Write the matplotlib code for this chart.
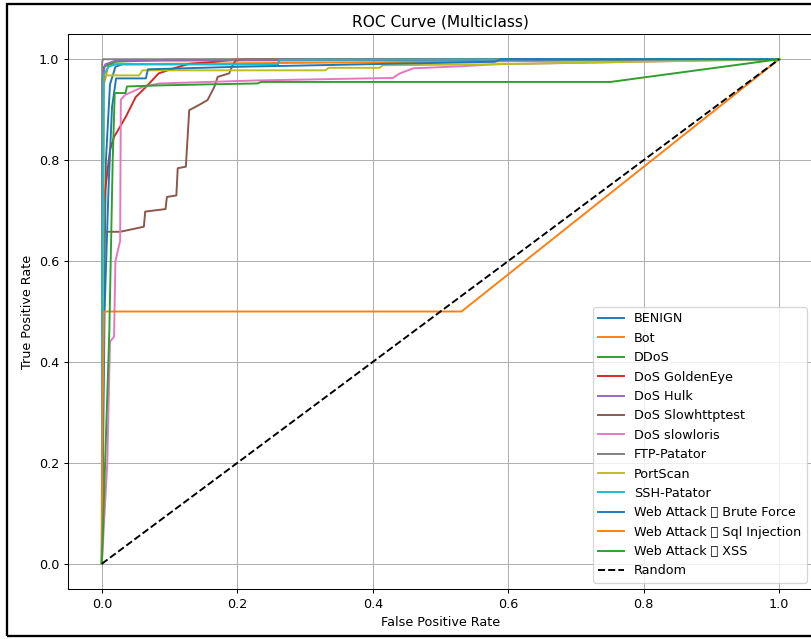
import matplotlib
matplotlib.use("Agg")
import matplotlib.pyplot as plt
from matplotlib.patches import Rectangle

# class names as they appear in the legend (the dataset label has a \x96 byte)
class_names = ['BENIGN', 'Bot', 'DDoS', 'DoS GoldenEye', 'DoS Hulk',
               'DoS Slowhttptest', 'DoS slowloris', 'FTP-Patator', 'PortScan',
               'SSH-Patator', 'Web Attack \x96 Brute Force',
               'Web Attack \x96 Sql Injection', 'Web Attack \x96 XSS']

# ROC points (fpr, tpr)
fpr_benign = [0, 0.002, 0.006, 0.012, 0.02, 0.03, 0.26, 0.262, 1]
tpr_benign = [0, 0.4, 0.8, 0.95, 0.985, 0.99, 0.99, 0.998, 1]

fpr_bot = [0, 0.0005, 0.001, 0.003, 0.01, 1]
tpr_bot = [0, 0.17, 0.6, 0.95, 0.99, 1]

fpr_ddos = [0, 0.001, 0.003, 0.02, 0.1, 1]
tpr_ddos = [0, 0.9, 0.985, 0.995, 0.999, 1]

fpr_goldeneye = [0, 0.001, 0.002, 0.003, 0.012, 0.018, 0.035, 0.05, 0.065,
                 0.084, 0.104, 0.129, 0.168, 0.2, 1]
tpr_goldeneye = [0, 0.5, 0.65, 0.72, 0.82, 0.846, 0.885, 0.925, 0.945,
                 0.972, 0.981, 0.991, 0.995, 1, 1]

fpr_hulk = [0, 0.0005, 0.005, 0.02, 1]
tpr_hulk = [0, 0.96, 0.99, 0.997, 1]

fpr_slowhttp = [0, 0.002, 0.003, 0.027, 0.062, 0.064, 0.094, 0.096, 0.11,
                0.112, 0.124, 0.129, 0.143, 0.156, 0.166, 0.171, 0.188,
                0.193, 0.198, 0.21, 1]
tpr_slowhttp = [0, 0.6, 0.658, 0.658, 0.668, 0.698, 0.703, 0.727, 0.73,
                0.784, 0.787, 0.899, 0.909, 0.919, 0.945, 0.965, 0.972,
                0.988, 0.998, 1, 1]

fpr_slowloris = [0, 0.008, 0.012, 0.018, 0.02, 0.027, 0.028, 0.035, 0.044,
                 0.06, 0.085, 0.23, 0.43, 0.44, 0.46, 0.53, 0.58, 1]
tpr_slowloris = [0, 0.2, 0.44, 0.45, 0.6, 0.64, 0.92, 0.93, 0.935,
                 0.945, 0.952, 0.958, 0.963, 0.972, 0.982, 0.986, 0.99, 1]

fpr_ftp = [0, 0.0005, 0.002, 1]
tpr_ftp = [0, 0.995, 1, 1]

fpr_portscan = [0, 0.002, 0.003, 0.055, 0.06, 0.33, 0.335, 0.41, 0.415,
                0.58, 1]
tpr_portscan = [0, 0.6, 0.968, 0.968, 0.978, 0.978, 0.983, 0.983, 0.988,
                0.99, 1]

fpr_ssh = [0, 0.001, 0.003, 0.01, 0.02, 0.26, 0.262, 1]
tpr_ssh = [0, 0.6, 0.97, 0.985, 0.99, 0.99, 0.999, 1]

fpr_brute = [0, 0.004, 0.01, 0.015, 0.021, 0.065, 0.068, 0.2, 0.58, 0.59, 1]
tpr_brute = [0, 0.5, 0.75, 0.905, 0.962, 0.962, 0.98, 0.985, 0.995, 1, 1]

fpr_sql = [0, 0.001, 0.003, 0.531, 1]
tpr_sql = [0, 0.3, 0.5, 0.5, 1]

fpr_xss = [0, 0.011, 0.016, 0.019, 0.035, 0.037, 0.08, 0.15, 0.23, 0.235,
           0.751, 1]
tpr_xss = [0, 0.46, 0.8, 0.933, 0.933, 0.946, 0.948, 0.95, 0.952, 0.955,
           0.955, 1]

fpr_all = [fpr_benign, fpr_bot, fpr_ddos, fpr_goldeneye, fpr_hulk,
           fpr_slowhttp, fpr_slowloris, fpr_ftp, fpr_portscan, fpr_ssh,
           fpr_brute, fpr_sql, fpr_xss]
tpr_all = [tpr_benign, tpr_bot, tpr_ddos, tpr_goldeneye, tpr_hulk,
           tpr_slowhttp, tpr_slowloris, tpr_ftp, tpr_portscan, tpr_ssh,
           tpr_brute, tpr_sql, tpr_xss]

# the screenshot looks like a figure drawn at ~92 dpi
dpi = 92
fig = plt.figure(figsize=(812/dpi, 639/dpi), dpi=dpi)
ax = fig.add_axes([68/812, 50/639, 745/812, 555/639])

for i in range(len(class_names)):
    ax.plot(fpr_all[i], tpr_all[i], label=class_names[i])

ax.plot([0, 1], [0, 1], 'k--', label='Random')

ax.set_xlabel('False Positive Rate')
ax.set_ylabel('True Positive Rate')
ax.set_title('ROC Curve (Multiclass)')
ax.legend(loc='lower right')
ax.grid(True)

# screenshot frame
fig.patches.append(Rectangle((7/812, 3/639), 815/812, 632/639,
                             transform=fig.transFigure, fill=False,
                             edgecolor='black', linewidth=1.8))

fig.savefig('out.png', dpi=dpi)
